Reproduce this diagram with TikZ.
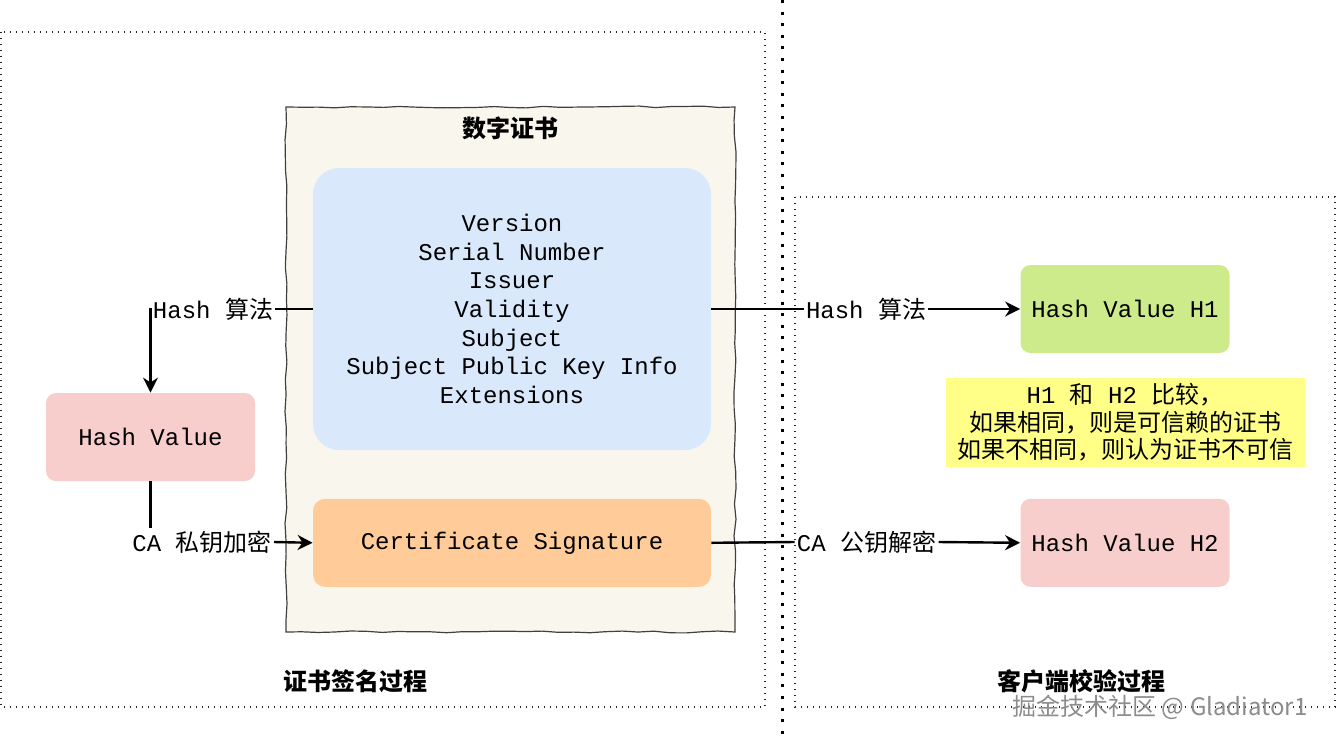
\documentclass[tikz,border=0pt]{standalone}
\usepackage{fontspec}
\setmonofont{Liberation Mono}
\newfontfamily\cjk{Noto Sans CJK SC}
\usetikzlibrary{arrows.meta,positioning,decorations.pathmorphing}

\definecolor{certbg}{HTML}{F9F7ED}
\definecolor{fieldblue}{HTML}{DAE8FC}
\definecolor{sigorange}{HTML}{FFCC99}
\definecolor{hashpink}{HTML}{F8CECC}
\definecolor{hashgreen}{HTML}{CDEB8B}
\definecolor{noteyellow}{HTML}{FFFF88}

\begin{document}
\begin{tikzpicture}[
  x=0.5pt, y=-0.5pt,
  font=\ttfamily\fontsize{12}{14.3}\selectfont,
  >={Stealth[length=7.5pt,width=7.5pt]},
  frame/.style={draw=black!85, line width=0.7pt, dash pattern=on 0.7pt off 2.3pt},
  divider/.style={draw=black, line width=1.5pt, dash pattern=on 1.5pt off 4.3pt},
  certbox/.style={
    draw=black!75,
    fill=certbg,
    line width=0.6pt,
    decorate,
    decoration={random steps, segment length=8pt, amplitude=0.5pt},
    minimum width=224.5pt,
    minimum height=262.5pt,
    inner sep=0pt
  },
  field/.style={
    align=center,
    minimum width=199pt,
    inner sep=0pt
  },
  hashbox/.style={
    rounded corners=5pt,
    minimum width=104.5pt,
    minimum height=44pt,
    inner sep=0pt
  },
  notebox/.style={
    fill=noteyellow,
    align=center,
    minimum width=179.5pt,
    minimum height=44.5pt,
    inner sep=0pt,
    font=\ttfamily\fontsize{12}{13.8}\selectfont
  },
  lbl/.style={inner sep=1pt},
  caption/.style={font=\cjk\bfseries\fontsize{12}{14}\selectfont},
  flow/.style={->,line width=1.2pt},
  link/.style={line width=1.2pt}
]
\useasboundingbox (0,0) rectangle (1337,740);
\pgfmathsetseed{7}

% frames
\draw[frame] (1,32) rectangle (765,707);
\draw[frame] (795,197) rectangle (1335,707);
\draw[divider] (782,0) -- (782,740);

% certificate
\node[certbox] (cert) at (510.5,369.5) {};
\node[caption] (certtitle) at (510,128) {数字证书};
\node[field,fill=fieldblue,minimum height=141pt,rounded corners=13pt] (fields) at (512,309) {
  Version\\
  Serial Number\\
  Issuer\\
  Validity\\
  Subject\\
  Subject Public Key Info\\
  Extensions
};
\node[field,fill=sigorange,minimum height=44pt,rounded corners=6pt,below=24pt of fields] (sig) {Certificate Signature};

% signing side
\node[hashbox,fill=hashpink] (hv) at (150.5,437) {Hash Value};
\node[lbl] (hashl) at (213,309) {Hash {\cjk 算法}};
\node[lbl] (sigl) at (202,542) {CA {\cjk 私钥加密}};
\draw[link] (fields.west) -- (hashl.east);
\draw[flow] (hashl.west) -| (hv.north);
\draw[link] (hv.south) -- (hv.south |- sigl.north);
\draw[flow] (sigl.east) -- (sig.west);

% checking side
\node[hashbox,fill=hashgreen] (h1) at (1125,309) {Hash Value H1};
\node[notebox,below=12pt of h1] (note) {
  H1 {\cjk 和} H2 {\cjk 比较，}\\
  {\cjk 如果相同，则是可信赖的证书}\\
  {\cjk 如果不相同，则认为证书不可信}
};
\node[hashbox,fill=hashpink] (h2) at (h1 |- sig) {Hash Value H2};
\node[lbl] (hashr) at (866,309) {Hash {\cjk 算法}};
\node[lbl] (sigr) at (866.5,542) {CA {\cjk 公钥解密}};
\draw[link] (fields.east) -- (hashr.west);
\draw[flow] (hashr.east) -- (h1.west);
\draw[link] (sig.east) -- (sigr.west);
\draw[flow] (sigr.east) -- (h2.west);

% captions
\node[caption] (signcap) at (355,681) {证书签名过程};
\node[caption] (checkcap) at (1081,681) {客户端校验过程};
\node[font=\cjk\fontsize{12}{14}\selectfont,text=black!45] (mark) at (1160,707) {掘金技术社区 @ Gladiator1};
\end{tikzpicture}
\end{document}
